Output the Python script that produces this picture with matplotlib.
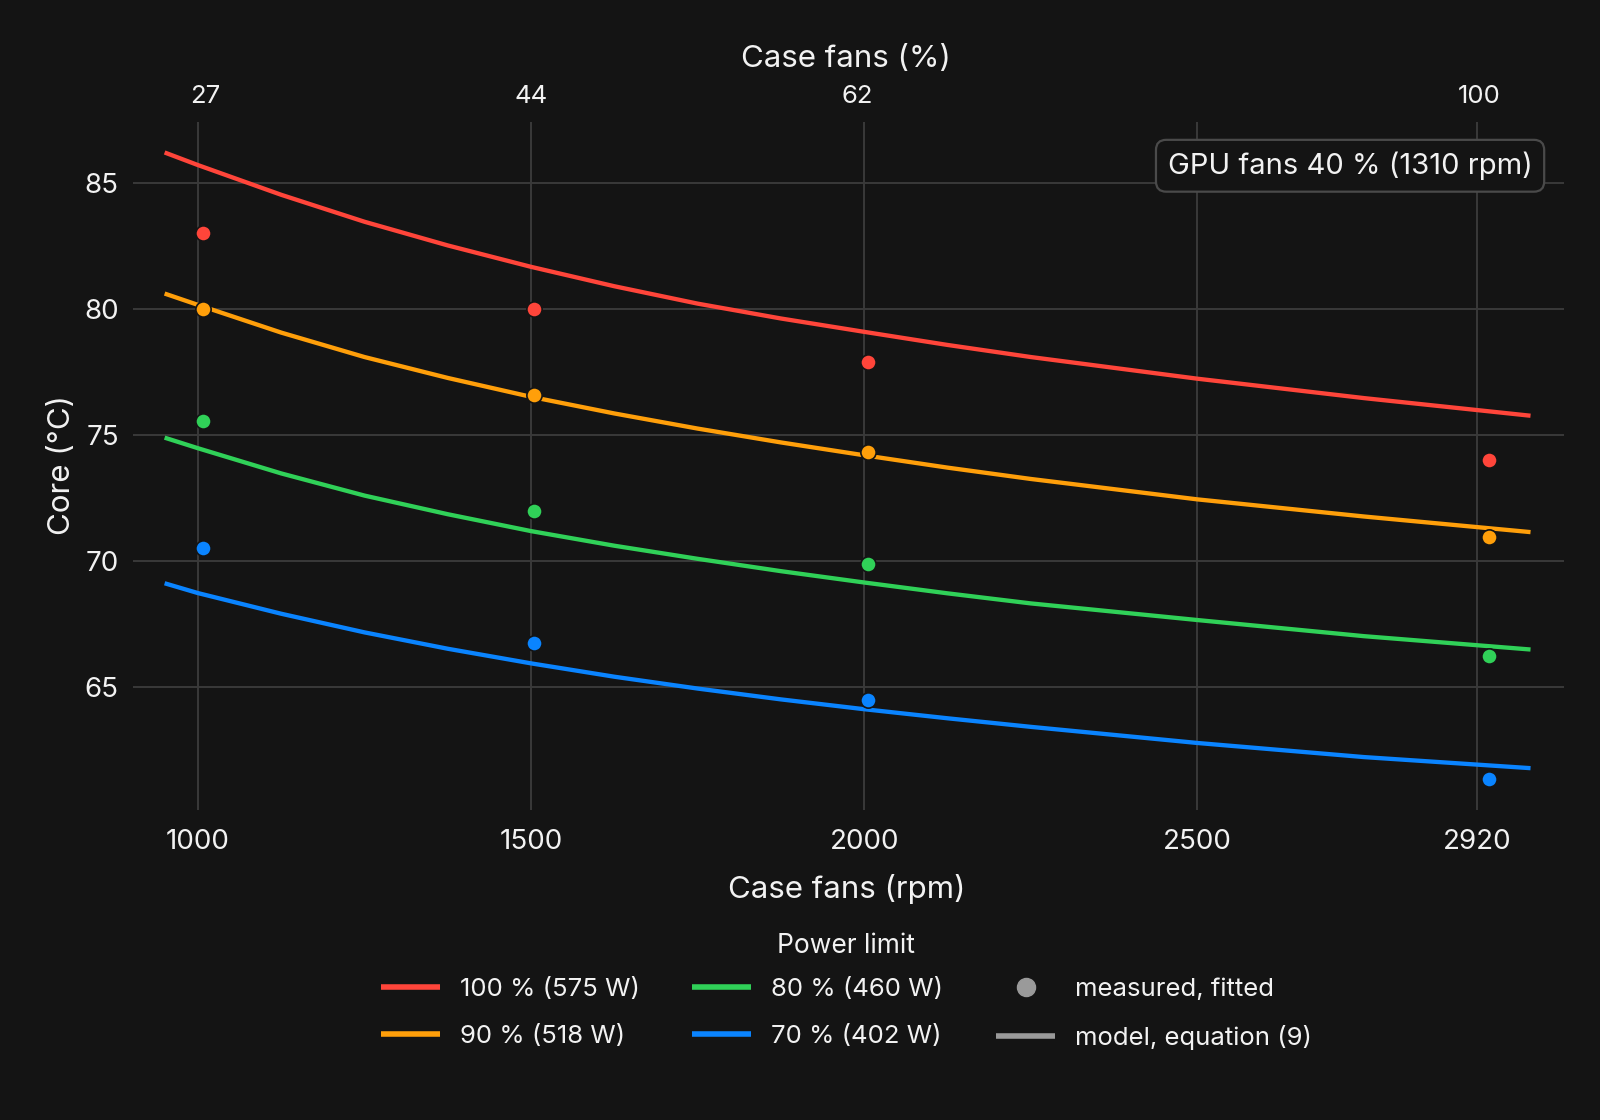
import matplotlib
matplotlib.use("Agg")
import matplotlib.pyplot as plt
from matplotlib.lines import Line2D

BG = "#141414"
GRID = "#3a3a3a"
FG = "#f2f2f2"

plt.rcParams['font.family'] = ['Inter', 'DejaVu Sans']

# measured case-fan speeds (rpm) and core temperatures (°C)
measured_rpm = [1008, 1504, 2005, 2937]
measured_100 = [83.0, 80.0, 77.87, 73.98]
measured_90 = [80.0, 76.59, 74.30, 70.93]
measured_80 = [75.53, 71.96, 69.86, 66.22]
measured_70 = [70.48, 66.72, 64.46, 61.33]

model_rpm = [950, 1000, 1125, 1250, 1375, 1500, 1625, 1750, 1875, 2000, 2125, 2250, 2500, 2750, 3000]
model_100 = [86.2, 85.7, 84.52, 83.45, 82.51, 81.66, 80.89, 80.2, 79.61, 79.08, 78.56, 78.08, 77.22, 76.45, 75.75]
model_90 = [80.6, 80.15, 79.05, 78.08, 77.25, 76.5, 75.84, 75.24, 74.69, 74.18, 73.69, 73.24, 72.43, 71.75, 71.13]
model_80 = [74.88, 74.46, 73.46, 72.58, 71.84, 71.17, 70.59, 70.07, 69.58, 69.13, 68.7, 68.3, 67.64, 67.0, 66.47]
model_70 = [69.1, 68.71, 67.89, 67.15, 66.5, 65.92, 65.39, 64.92, 64.49, 64.1, 63.74, 63.4, 62.76, 62.2, 61.76]

series_labels = ["100 % (575 W)", "90 % (518 W)", "80 % (460 W)", "70 % (402 W)"]
series_colors = ["#ff453a", "#ff9f0a", "#30d158", "#0a84ff"]

rpm_ticks = [1000, 1500, 2000, 2500, 2920]
temp_ticks = [65, 70, 75, 80, 85]
pct_tick_rpm = [1011, 1500, 1989, 2923]
pct_tick_labels = ["27", "44", "62", "100"]

fig = plt.figure(figsize=(16, 11.2), dpi=100)
fig.patch.set_facecolor(BG)
ax = fig.add_axes([0.0829, 0.2768, 0.8945, 0.6145])
ax.set_facecolor(BG)

models = [model_100, model_90, model_80, model_70]
measured = [measured_100, measured_90, measured_80, measured_70]
for model, meas, color in zip(models, measured, series_colors):
    ax.plot(model_rpm, model, color=color, lw=3.1, solid_capstyle='butt',
            solid_joinstyle='round', zorder=3)
    ax.plot(measured_rpm, meas, 'o', color=color, ms=11, mec=BG, mew=1.2, zorder=4)

ax.set_xlim(902, 3050)
ax.set_ylim(60.1, 87.42)
ax.set_xticks(rpm_ticks)
ax.set_xticklabels([str(t) for t in rpm_ticks])
ax.set_yticks(temp_ticks)
ax.grid(True, color=GRID, lw=1.4)
ax.set_axisbelow(True)
for s in ax.spines.values():
    s.set_visible(False)
ax.tick_params(axis='x', length=0, pad=14, labelsize=20, colors=FG)
ax.tick_params(axis='y', length=0, pad=10, labelsize=20, colors=FG)

top = ax.secondary_xaxis('top')
top.set_xticks(pct_tick_rpm)
top.set_xticklabels(pct_tick_labels)
top.tick_params(length=0, pad=10, labelsize=18.5, colors=FG)
for s in top.spines.values():
    s.set_visible(False)

fig.text(0.529, 0.947, "Case fans (%)", ha='center', va='center', fontsize=22.5, color=FG)
fig.text(0.529, 0.2062, "Case fans (rpm)", ha='center', va='center', fontsize=22.5, color=FG)
fig.text(0.039, 0.5848, "Core (°C)", ha='center', va='center', rotation=90, fontsize=22.5, color=FG)

fig.text(0.8438, 0.852, "GPU fans 40 % (1310 rpm)", ha='center', va='center', fontsize=21, color=FG,
         bbox=dict(boxstyle='round,pad=0.4,rounding_size=0.35', fc=BG, ec="#4a4a4a", lw=1.6))

handles = [Line2D([], [], color=c, lw=4, solid_capstyle='butt') for c in series_colors]
handles.append(Line2D([], [], ls='none', marker='o', ms=13, color="#9a9a9a"))
handles.append(Line2D([], [], color="#9a9a9a", lw=4, solid_capstyle='butt'))
labels = series_labels + ["measured, fitted", "model, equation (9)"]
leg = fig.legend(handles, labels, loc='upper center', bbox_to_anchor=(0.529, 0.1785), ncol=3,
                 frameon=False, fontsize=18.5, title="Power limit", title_fontsize=19,
                 handlelength=2.3, handletextpad=0.78, columnspacing=2.05, labelspacing=0.92,
                 borderpad=0)
leg.get_title().set_color(FG)
for t in leg.get_texts():
    t.set_color(FG)
leg._legend_box.sep = 14

fig.savefig("out.png", dpi=100, facecolor=BG)
